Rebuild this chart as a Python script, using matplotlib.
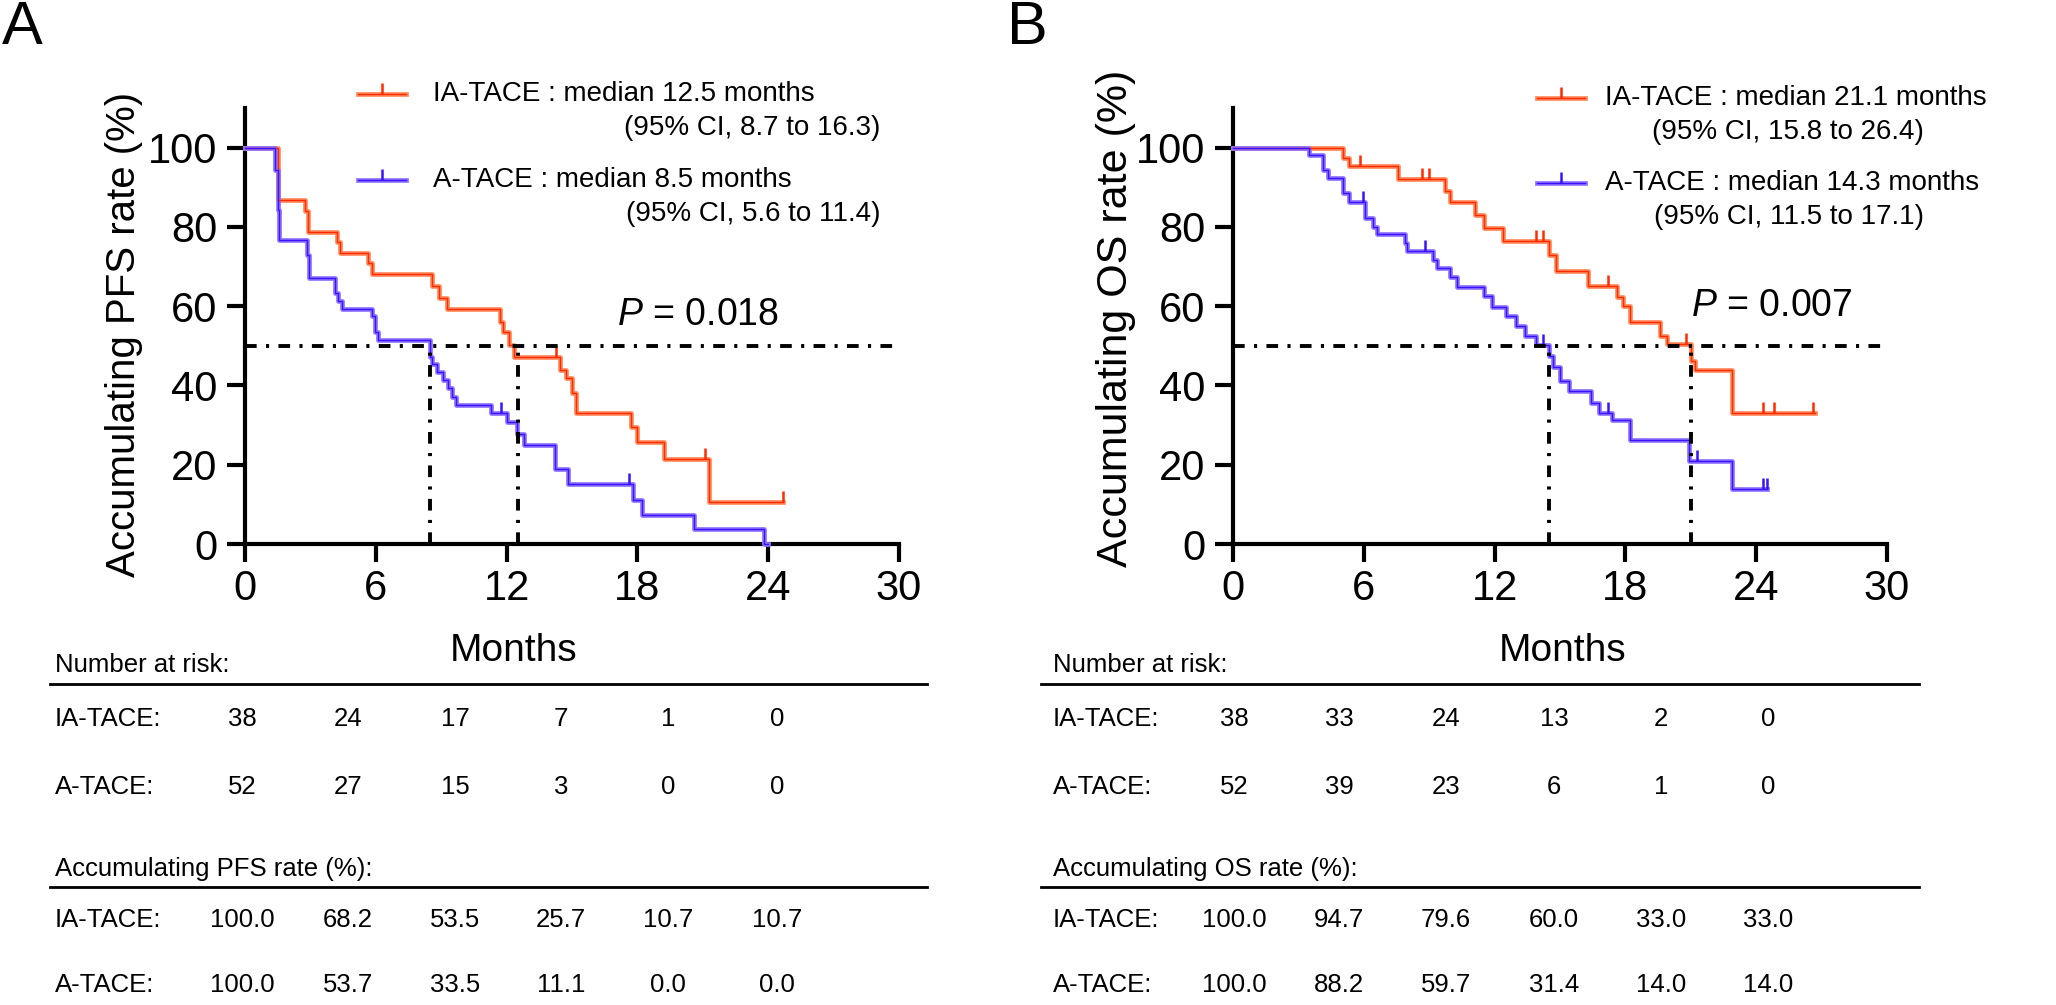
import matplotlib
matplotlib.use('Agg')
import matplotlib.pyplot as plt

plt.rcParams['font.family'] = ['Liberation Sans', 'DejaVu Sans']
plt.rcParams['mathtext.fontset'] = 'custom'
plt.rcParams['mathtext.it'] = 'Liberation Sans:italic'
plt.rcParams['mathtext.rm'] = 'Liberation Sans'

# ---- data ----
groups = ['IA-TACE', 'A-TACE']
month_ticks = [0, 6, 12, 18, 24, 30]
rate_ticks = [0, 20, 40, 60, 80, 100]

# PFS (panel A)
pfs_ia_t = [0, 1.53, 2.75, 2.87, 4.2, 4.36, 5.66, 5.81, 8.6, 8.9, 9.25, 11.7, 11.85, 12.12, 12.35,
            14.45, 14.72, 14.98, 15.2, 17.7, 18.0, 19.2, 21.3, 24.7]
pfs_ia_s = [100, 86.9, 83.9, 78.8, 76.3, 73.4, 70.9, 68.2, 65.0, 62.0, 59.2, 56.1, 53.4, 50.3, 47.3,
            43.9, 41.8, 38.1, 33.0, 29.4, 25.7, 21.4, 10.7, 10.7]
pfs_ia_cens_t = [14.27, 21.1, 24.7]
pfs_ia_cens_s = [47.3, 21.4, 10.7]

pfs_a_t = [0, 1.38, 1.5, 1.57, 2.83, 2.95, 4.13, 4.28, 4.46, 5.81, 5.96, 6.08, 8.49, 8.6, 8.79, 9.1,
           9.3, 9.48, 9.66, 11.3, 12.0, 12.46, 12.8, 14.2, 14.8, 17.8, 18.2, 20.6, 23.8, 24.0]
pfs_a_s = [100, 94.4, 84.3, 76.8, 73.0, 67.1, 63.3, 61.2, 59.2, 57.4, 53.4, 51.5, 47.3, 45.5, 43.3, 41.4,
           39.3, 37.2, 35.1, 33.0, 30.7, 27.8, 24.9, 19.0, 15.2, 11.1, 7.4, 3.7, 0, 0]
pfs_a_cens_t = [11.75, 17.6]
pfs_a_cens_s = [33.0, 15.2]

# OS (panel B)
os_ia_t = [0, 5.06, 5.33, 7.58, 9.72, 9.95, 11.1, 11.5, 12.4, 14.5, 14.8, 16.3, 17.6, 17.9, 18.2,
           19.6, 19.9, 21.0, 21.2, 22.9, 26.7]
os_ia_s = [100, 97.4, 95.3, 92.1, 89.0, 86.4, 83.1, 79.6, 76.4, 72.8, 68.9, 65.1, 62.3, 60.0, 56.0,
           52.5, 50.4, 46.2, 43.9, 33.0, 33.0]
os_ia_cens_t = [5.83, 8.68, 8.98, 13.9, 14.2, 17.2, 20.8, 24.3, 24.8, 26.6]
os_ia_cens_s = [95.3, 92.1, 92.1, 76.4, 76.4, 65.1, 50.4, 33.0, 33.0, 33.0]

os_a_t = [0, 3.5, 4.14, 4.37, 5.06, 5.33, 6.06, 6.41, 6.59, 7.89, 7.96, 9.16, 9.34, 9.95, 10.26, 11.5,
          11.9, 12.5, 13.0, 13.4, 13.9, 14.5, 14.7, 15.0, 15.4, 16.4, 16.8, 17.4, 18.2, 20.9, 22.9, 24.5]
os_a_s = [100, 98.1, 94.4, 92.3, 88.6, 86.4, 82.2, 80.1, 78.1, 75.9, 73.8, 71.7, 69.6, 67.3, 64.8, 62.5,
          59.7, 57.4, 55.1, 52.5, 50.3, 47.4, 44.6, 41.2, 38.5, 35.6, 33.0, 31.4, 26.2, 20.9, 14.0, 14.0]
os_a_cens_t = [5.98, 8.8, 14.2, 17.2, 21.3, 24.3, 24.5]
os_a_cens_s = [86.4, 73.8, 50.3, 33.0, 20.9, 14.0, 14.0]

pfs_medians = [8.5, 12.5]
os_medians = [14.5, 21.0]

pfs_legend = ['median 12.5 months', '(95% CI, 8.7 to 16.3)', 'median 8.5 months', '(95% CI, 5.6 to 11.4)']
os_legend = ['median 21.1 months', '(95% CI, 15.8 to 26.4)', 'median 14.3 months', '(95% CI, 11.5 to 17.1)']

pfs_at_risk_ia = [38, 24, 17, 7, 1, 0]
pfs_at_risk_a = [52, 27, 15, 3, 0, 0]
pfs_rate_ia = ['100.0', '68.2', '53.5', '25.7', '10.7', '10.7']
pfs_rate_a = ['100.0', '53.7', '33.5', '11.1', '0.0', '0.0']

os_at_risk_ia = [38, 33, 24, 13, 2, 0]
os_at_risk_a = [52, 39, 23, 6, 1, 0]
os_rate_ia = ['100.0', '94.7', '79.6', '60.0', '33.0', '33.0']
os_rate_a = ['100.0', '88.2', '59.7', '31.4', '14.0', '14.0']

# ---- styles ----
c_ia_light, c_ia_dark = '#FF8A5C', '#FF2A00'
c_a_light, c_a_dark = '#8F73FF', '#3A12FF'

W, H = 2056, 1005
fig = plt.figure(figsize=(W / 100, H / 100), dpi=100)

# overlay for free text / tables in pixel coordinates
ov = fig.add_axes([0, 0, 1, 1])
ov.set_xlim(0, W)
ov.set_ylim(H, 0)
ov.axis('off')

dash = (0, (3, 2.4, 0.8, 2.4))


def km_axes(x0):
    ax = fig.add_axes([x0 / W, 1 - 544 / H, 654 / W, 436 / H])
    ax.set_xlim(0, 30)
    ax.set_ylim(0, 110)
    ax.spines['top'].set_visible(False)
    ax.spines['right'].set_visible(False)
    for s in ['left', 'bottom']:
        ax.spines[s].set_linewidth(3.0)
    ax.spines['left'].set_bounds(0, 110)
    ax.set_xticks(month_ticks)
    ax.set_yticks(rate_ticks)
    ax.tick_params(length=13, width=3.0, labelsize=30, pad=5)
    ax.tick_params(axis='y', pad=7)
    ax.patch.set_alpha(0)
    return ax


def draw_curve(ax, t, s, ct, cs, light, dark):
    ax.step(t, s, where='post', color=light, lw=3.4, zorder=3, clip_on=False)
    ax.step(t, s, where='post', color=dark, lw=1.0, zorder=4, clip_on=False)
    ax.plot(ct, cs, linestyle='none', marker=2, ms=8, mew=1.8, color=dark, zorder=4, clip_on=False)


def median_lines(ax, meds):
    ax.plot([0, 30], [50, 50], color='black', lw=2.8, linestyle=dash, zorder=5, clip_on=False)
    for m in meds:
        ax.plot([m, m], [0, 50], color='black', lw=2.8, linestyle=dash, zorder=5, clip_on=False)


def legend_block(x_line, x_text, x_right, y1, y2, texts):
    for i, (yy, light, dark) in enumerate([(y1, c_ia_light, c_ia_dark), (y2, c_a_light, c_a_dark)]):
        ov.plot([x_line, x_line + 48], [yy, yy], color=light, lw=3.4)
        ov.plot([x_line, x_line + 48], [yy, yy], color=dark, lw=1.0)
        ov.plot([x_line + 24], [yy], marker=2, ms=8, mew=1.8, color=dark)
        ov.text(x_text, yy, groups[i] + ' : ' + texts[2 * i], fontsize=20, ha='left', va='center')
        ov.text(x_right, yy + 34, texts[2 * i + 1], fontsize=20, ha='right', va='center')


def risk_table(x_label, x_cols, x_line0, x_line1, title1, title2, r1, r2, p1, p2):
    fs = 18.5
    ov.text(x_label, 665, title1, fontsize=fs, ha='left', va='center')
    ov.plot([x_line0, x_line1], [684, 684], color='black', lw=2)
    ov.text(x_label, 719, groups[0] + ':', fontsize=fs, ha='left', va='center')
    ov.text(x_label, 787, groups[1] + ':', fontsize=fs, ha='left', va='center')
    for x, a, b in zip(x_cols, r1, r2):
        ov.text(x, 719, str(a), fontsize=fs, ha='center', va='center')
        ov.text(x, 787, str(b), fontsize=fs, ha='center', va='center')
    ov.text(x_label, 869, title2, fontsize=fs, ha='left', va='center')
    ov.plot([x_line0, x_line1], [887, 887], color='black', lw=2)
    ov.text(x_label, 920, groups[0] + ':', fontsize=fs, ha='left', va='center')
    ov.text(x_label, 985, groups[1] + ':', fontsize=fs, ha='left', va='center')
    for x, a, b in zip(x_cols, p1, p2):
        ov.text(x, 920, a, fontsize=fs, ha='center', va='center')
        ov.text(x, 985, b, fontsize=fs, ha='center', va='center')


# ---- panel A ----
axA = km_axes(245)
draw_curve(axA, pfs_ia_t, pfs_ia_s, pfs_ia_cens_t, pfs_ia_cens_s, c_ia_light, c_ia_dark)
draw_curve(axA, pfs_a_t, pfs_a_s, pfs_a_cens_t, pfs_a_cens_s, c_a_light, c_a_dark)
median_lines(axA, pfs_medians)
axA.text(17.05, 55.3, r'$\it{P}$ = 0.018', fontsize=27, ha='left', va='baseline')

# ---- panel B ----
axB = km_axes(1233)
draw_curve(axB, os_ia_t, os_ia_s, os_ia_cens_t, os_ia_cens_s, c_ia_light, c_ia_dark)
draw_curve(axB, os_a_t, os_a_s, os_a_cens_t, os_a_cens_s, c_a_light, c_a_dark)
median_lines(axB, os_medians)
axB.text(21.0, 57.5, r'$\it{P}$ = 0.007', fontsize=27, ha='left', va='baseline')

# labels
ov.text(2, 28, 'A', fontsize=44, ha='left', va='center')
ov.text(1007, 28, 'B', fontsize=44, ha='left', va='center')
ov.text(124, 334, 'Accumulating PFS rate (%)', fontsize=29, rotation=90, ha='center', va='center')
ov.text(1116, 318, 'Accumulating OS rate (%)', fontsize=31, rotation=90, ha='center', va='center')
ov.text(514, 651, 'Months', fontsize=28, ha='center', va='center')
ov.text(1563, 651, 'Months', fontsize=28, ha='center', va='center')

legend_block(358, 433, 880, 94, 180, pfs_legend)
legend_block(1537, 1605, 1924, 98, 183, os_legend)

risk_table(55, [242, 348, 455, 561, 668, 777], 50, 927,
           'Number at risk:', 'Accumulating PFS rate (%):',
           pfs_at_risk_ia, pfs_at_risk_a, pfs_rate_ia, pfs_rate_a)
risk_table(1053, [1234, 1339, 1446, 1554, 1661, 1768], 1041, 1919,
           'Number at risk:', 'Accumulating OS rate (%):',
           os_at_risk_ia, os_at_risk_a, os_rate_ia, os_rate_a)

fig.savefig('out.png', dpi=100)
